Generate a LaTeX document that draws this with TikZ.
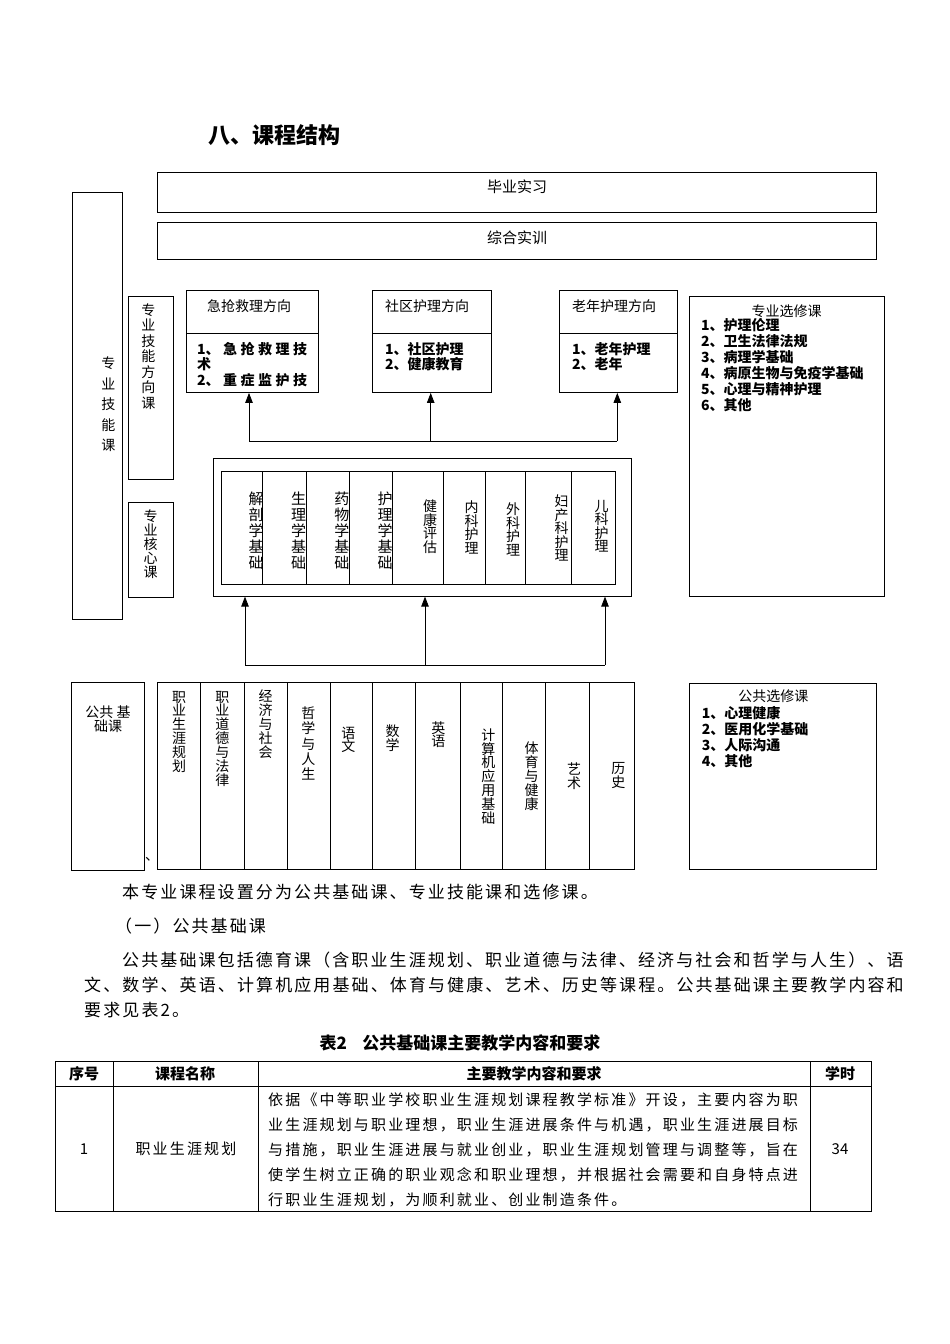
\documentclass[tikz,border=0pt]{standalone}
\usepackage{fontspec}
\setmainfont{Noto Sans CJK SC}
\newfontfamily\bodyfont[LetterSpace=12.4]{Noto Sans CJK SC}
\newfontfamily\tabfont[LetterSpace=14.4]{Noto Sans CJK SC}
\usetikzlibrary{arrows.meta}

\begin{document}
\begin{tikzpicture}[x=1pt, y=-1pt,
    box/.style={draw, line width=0.9pt, anchor=north west, inner sep=0pt},
    arr/.style={-{Triangle[length=10pt, width=7.5pt]}, line width=0.8pt},
    lab/.style={inner sep=0pt, font=\fontsize{14}{16}\selectfont},
    vtxt/.style={anchor=north, align=center, inner sep=0pt, font=\fontsize{14}{#1}\selectfont},
    vtxt/.default=13.8,
    body/.style={anchor=west, inner sep=0pt, font=\bodyfont\fontsize{17}{17}\selectfont}]
  \useasboundingbox (0,0) rectangle (950,1344);

  % heading
  \node[anchor=west, inner sep=0pt, font=\fontsize{22}{22}\selectfont\bfseries] (title) at (208,135) {八、课程结构};

  % top bars
  \node[box, minimum width=719pt, minimum height=40pt] (biye) at (157,172) {};
  \node[box, minimum width=719pt, minimum height=37pt] (shixun) at (157,222) {};
  \node[lab, font=\fontsize{15}{15}\selectfont] (biyet) at (517,187) {毕业实习};
  \node[lab, font=\fontsize{15}{15}\selectfont] (shixunt) at (517,238) {综合实训};

  % left labels
  \node[box, minimum width=50.3pt, minimum height=427pt] (jineng) at (71.7,192.3) {};
  \node[vtxt=20.5] (jinengt) at (108.3,357) {专\\业\\技\\能\\课};
  \node[box, minimum width=44.4pt, minimum height=183pt] (fangxiang) at (128.3,296) {};
  \node[vtxt=15.5] (fangxiangt) at (148.3,303.3) {专\\业\\技\\能\\方\\向\\课};
  \node[box, minimum width=44.4pt, minimum height=94.7pt] (hexin) at (128.3,502.3) {};
  \node[vtxt=14] (hexint) at (150.7,510) {专\\业\\核\\心\\课};

  % direction boxes
  \foreach \n/\xa/\xb in {dir1/186/318, dir2/372/491, dir3/559/677} {
    \node[box, minimum width={(\xb-\xa)*1pt}, minimum height=102pt] (\n) at (\xa,290) {};
    \draw[line width=0.8pt] (\xa,333.3) -- (\xb,333.3);
  }
  \node[lab, anchor=west] (dir1t) at (207,306) {急抢救理方向};
  \node[lab, anchor=west] (dir2t) at (385,306) {社区护理方向};
  \node[lab, anchor=west] (dir3t) at (572,306) {老年护理方向};
  \node[lab, anchor=north west, align=left, font=\fontsize{14}{15.5}\selectfont\bfseries] (dir1l) at (197,342)
    {\makebox[110pt][s]{1、\hfill 急\hfill 抢\hfill 救\hfill 理\hfill 技}\\术\\\makebox[110pt][s]{2、\hfill 重\hfill 症\hfill 监\hfill 护\hfill 技}};
  \node[lab, anchor=north west, align=left, font=\fontsize{14}{15.5}\selectfont\bfseries] (dir2l) at (385,342) {1、社区护理\\2、健康教育};
  \node[lab, anchor=north west, align=left, font=\fontsize{14}{15.5}\selectfont\bfseries] (dir3l) at (572,342) {1、老年护理\\2、老年};

  % professional electives
  \node[box, minimum width=195.5pt, minimum height=300pt] (zyxx) at (688.5,296) {};
  \node[lab] (zyxxt) at (786.7,310.7) {专业选修课};
  \node[lab, anchor=north west, align=left, font=\fontsize{14}{16}\selectfont\bfseries] (zyxxl) at (701,318.5)
    {1、护理伦理\\2、卫生法律法规\\3、病理学基础\\4、病原生物与免疫学基础\\5、心理与精神护理\\6、其他};

  % core courses
  \node[box, minimum width=417.7pt, minimum height=137.7pt] (core) at (213,458) {};
  \foreach \a/\b in {221.7/262.7, 262.7/306, 306/349.3, 349.3/392.3, 392.3/443.3,
                     443.3/485.7, 485.7/525, 525/571.7, 571.7/615.7}
    \draw[line width=0.8pt] (\a,471) rectangle (\b,584);
  \foreach \x/\t [count=\i] in {256/解\\剖\\学\\基\\础, 298.5/生\\理\\学\\基\\础,
                                341.8/药\\物\\学\\基\\础, 385/护\\理\\学\\基\\础}
    \node[vtxt=16, font=\fontsize{15}{16}\selectfont] (ca\i) at (\x,491.7) {\t};
  \foreach \x/\y/\t [count=\i] in {430/500/健\\康\\评\\估, 471.7/500.7/内\\科\\护\\理,
                                   513/503/外\\科\\护\\理, 561.7/495/妇\\产\\科\\护\\理,
                                   601.7/500/儿\\科\\护\\理}
    \node[vtxt=13.5] (cb\i) at (\x,\y) {\t};

  % arrows to directions
  \coordinate (ul) at (249,441);
  \coordinate (um) at (430.7,441);
  \coordinate (ur) at (617.3,441);
  \draw[line width=0.8pt] (ul) -- (ur);
  \draw[arr] (ul) -- (ul |- dir1.south);
  \draw[arr] (um) -- (um |- dir2.south);
  \draw[arr] (ur) -- (ur |- dir3.south);

  % arrows to core
  \coordinate (ll) at (245,665);
  \coordinate (lm) at (425,665);
  \coordinate (lr) at (605,665);
  \draw[line width=0.8pt] (ll) -- (lr);
  \draw[arr] (ll) -- (ll |- core.south);
  \draw[arr] (lm) -- (lm |- core.south);
  \draw[arr] (lr) -- (lr |- core.south);

  % public basic courses
  \node[box, minimum width=73pt, minimum height=187.7pt] (ggjc) at (71,682.3) {};
  \node[vtxt=13.3] (ggjct) at (108,706) {公共 基\\础课};
  \node[inner sep=0pt, font=\fontsize{14}{14}\selectfont] (dun) at (152,859) {、};
  \foreach \a/\b in {157/200, 200/244.3, 244.3/287.7, 287.7/330.7, 330.7/372.3, 372.3/415.7,
                     415.7/460, 460/502.7, 502.7/545.7, 545.7/589, 589/634.3}
    \draw[line width=0.9pt] (\a,682.5) rectangle (\b,869.5);
  \foreach \x/\y/\p/\t [count=\i] in {179/690.7/13.8/职\\业\\生\\涯\\规\\划,
      222.3/690.7/13.9/职\\业\\道\\德\\与\\法\\律, 265.7/689.3/14.1/经\\济\\与\\社\\会,
      308.3/706.7/15.3/哲\\学\\与\\人\\生, 348.3/726.7/13.3/语\\文,
      392.7/725/13.3/数\\学, 438.3/721.7/13.3/英\\语,
      488.3/728.3/13.8/计\\算\\机\\应\\用\\基\\础, 531.7/741.7/14/体\\育\\与\\健\\康,
      574/762.7/13.7/艺\\术, 618.3/762.7/14/历\\史}
    \node[vtxt=\p] (pc\i) at (\x,\y) {\t};

  % public electives
  \node[box, minimum width=187pt, minimum height=186.6pt] (ggxx) at (689,682.7) {};
  \node[lab] (ggxxt) at (773.3,696) {公共选修课};
  \node[lab, anchor=north west, align=left, font=\fontsize{14}{15.8}\selectfont\bfseries] (ggxxl) at (701.7,706.4)
    {1、心理健康\\2、医用化学基础\\3、人际沟通\\4、其他};

  % body text
  \node[body] (b1) at (122,892) {本专业课程设置分为公共基础课、专业技能课和选修课。};
  \node[body] (b2) at (115,926) {（一）公共基础课};
  \node[body] (b3) at (122,960) {公共基础课包括德育课（含职业生涯规划、职业道德与法律、经济与社会和哲学与人生）、语};
  \node[body] (b4) at (84,985) {文、数学、英语、计算机应用基础、体育与健康、艺术、历史等课程。公共基础课主要教学内容和};
  \node[body] (b5) at (84,1010) {要求见表2。};

  % table 2
  \node[inner sep=0pt, font=\fontsize{17}{17}\selectfont\bfseries] (cap) at (460,1043) {表2\hspace{0.9em}公共基础课主要教学内容和要求};
  \draw[line width=1pt] (55,1061) rectangle (871,1211);
  \draw[line width=0.7pt] (55,1086) -- (871,1086);
  \foreach \x in {113, 258, 810}
    \draw[line width=0.7pt] (\x,1061) -- (\x,1211);
  \node[inner sep=0pt, font=\fontsize{15}{15}\selectfont\bfseries] (h1) at (84,1074) {序号};
  \node[inner sep=0pt, font=\fontsize{15}{15}\selectfont\bfseries] (h2) at (185,1074) {课程名称};
  \node[inner sep=0pt, font=\fontsize{15}{15}\selectfont\bfseries] (h3) at (534,1074) {主要教学内容和要求};
  \node[inner sep=0pt, font=\fontsize{15}{15}\selectfont\bfseries] (h4) at (840,1074) {学时};
  \node[inner sep=0pt, font=\fontsize{15}{15}\selectfont] (r1) at (84,1149) {1};
  \node[inner sep=0pt, font=\tabfont\fontsize{15}{15}\selectfont] (r2) at (186,1149) {职业生涯规划};
  \node[inner sep=0pt, font=\fontsize{15}{15}\selectfont] (r4) at (840,1149) {34};
  \node[anchor=north west, align=left, inner sep=0pt, font=\tabfont\fontsize{15}{25}\selectfont] (r3) at (268,1092.3)
    {依据《中等职业学校职业生涯规划课程教学标准》开设，主要内容为职\\
     业生涯规划与职业理想，职业生涯进展条件与机遇，职业生涯进展目标\\
     与措施，职业生涯进展与就业创业，职业生涯规划管理与调整等，旨在\\
     使学生树立正确的职业观念和职业理想，并根据社会需要和自身特点进\\
     行职业生涯规划，为顺利就业、创业制造条件。};
\end{tikzpicture}
\end{document}
